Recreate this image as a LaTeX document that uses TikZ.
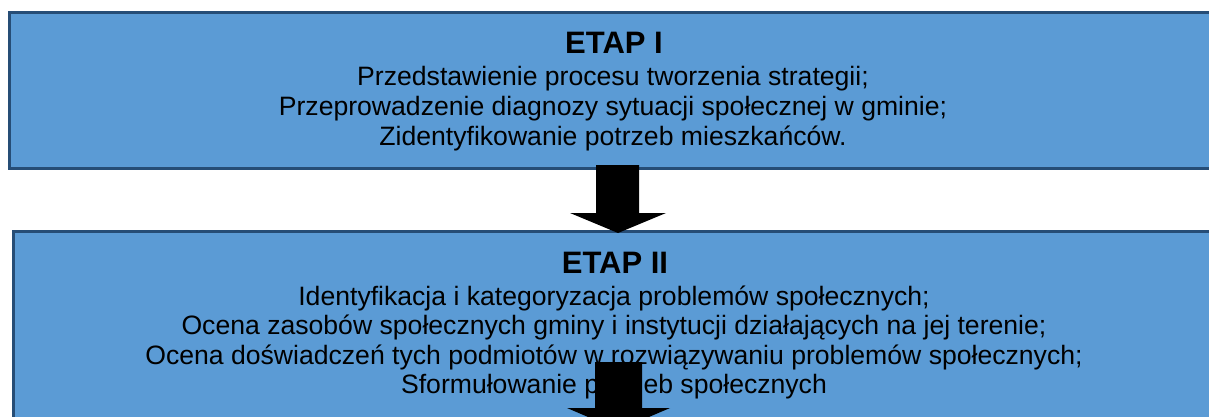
\documentclass[tikz,border=0pt]{standalone}
\usepackage{fontspec}
\setmainfont{Liberation Sans}
\definecolor{etapfill}{HTML}{5B9BD5}
\definecolor{etapborder}{HTML}{264D76}
\tikzset{
  etapbox/.style={draw=etapborder, line width=2.6pt, fill=etapfill, anchor=north west, inner sep=0pt},
  etaptitle/.style={anchor=base, inner sep=0pt, font=\fontsize{31}{36}\selectfont\bfseries},
  etaptext/.style={anchor=base, inner sep=0pt, font=\fontsize{26.6}{30}\selectfont},
  blockarrow/.style={fill=black}
}
\begin{document}
\begin{tikzpicture}[x=1pt,y=-1pt]
  \useasboundingbox (0,0) rectangle (1209,417);
  \clip (0,0) rectangle (1209,417);
  % etap I
  \node[etapbox, minimum width=1220pt, minimum height=156pt] (etap1) at (8,11) {};
  \node[etaptitle] (t1) at (614,53.5) {ETAP I};
  \foreach \txt [count=\i] in {Przedstawienie procesu tworzenia strategii;,
      Przeprowadzenie diagnozy sytuacji społecznej w gminie;,
      Zidentyfikowanie potrzeb mieszkańców.}
    \node[etaptext] (l1\i) at (613,{56+30*\i}) {\txt};
  % etap II
  \node[etapbox, minimum width=1220pt, minimum height=200pt] (etap2) at (12,230) {};
  \node[etaptitle] (t2) at (615,273) {ETAP II};
  \foreach \txt [count=\i] in {Identyfikacja i kategoryzacja problemów społecznych;,
      Ocena zasobów społecznych gminy i instytucji działających na jej terenie;,
      Ocena doświadczeń tych podmiotów w rozwiązywaniu problemów społecznych;,
      Sformułowanie potrzeb społecznych}
    \node[etaptext] (l2\i) at (614,{275.5+29.5*\i}) {\txt};
  % strzalki
  \coordinate (a1) at (617.5,165);
  \coordinate (a2) at (618.5,362);
  \fill[blockarrow] (a1) ++(-21.5,0) -- ++(0,48) -- ++(-26,0) -- ++(48,20)
    -- ++(48,-20) -- ++(-27,0) -- ++(0,-48) -- cycle;
  \fill[blockarrow] (a2) ++(-23.5,0) -- ++(0,46) -- ++(-28,0) -- ++(51.5,22)
    -- ++(51.5,-22) -- ++(-28,0) -- ++(0,-46) -- cycle;
\end{tikzpicture}
\end{document}
